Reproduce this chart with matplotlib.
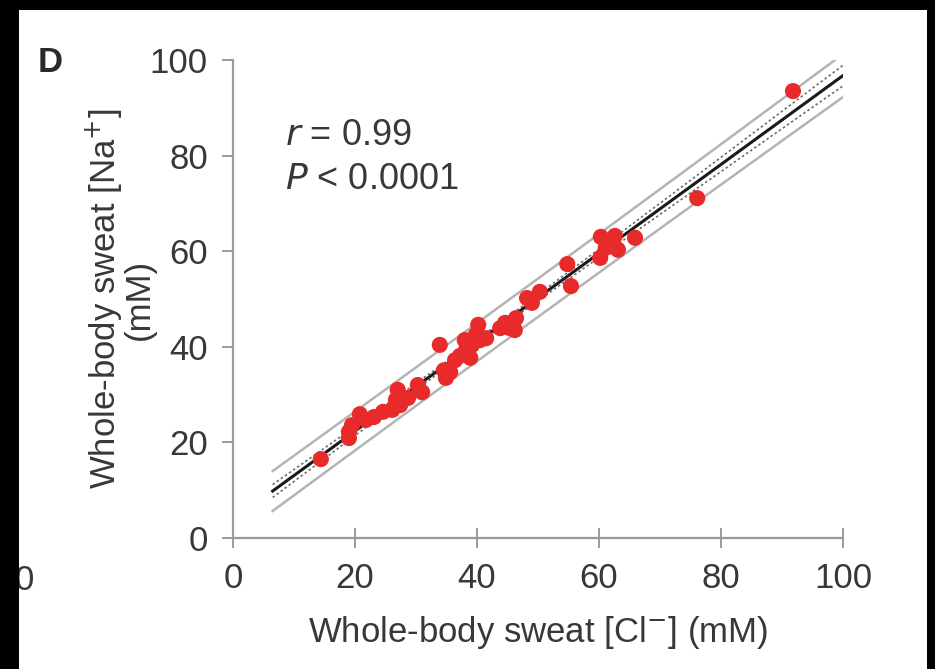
import numpy as np
import matplotlib
matplotlib.use("Agg")
import matplotlib.pyplot as plt
from matplotlib.patches import Rectangle

plt.rcParams['font.family'] = ['Liberation Sans', 'DejaVu Sans']

# Data: whole-body sweat [Cl-] (x) vs [Na+] (y), mM
cl = [14.4, 19.0, 19.0, 19.5, 20.8, 21.8, 23.1, 24.6, 26.1, 26.7, 27.0, 27.4,
      28.7, 30.3, 31.0, 33.9, 34.6, 34.9, 35.6, 36.4, 37.2, 38.0, 38.2, 38.9,
      39.2, 39.8, 40.2, 40.5, 41.5, 43.8, 44.6, 45.4, 46.4, 46.2, 48.2, 49.0,
      50.3, 54.8, 55.4, 60.2, 60.3, 61.1, 61.8, 62.6, 63.1, 65.9, 76.1, 91.8]
na = [16.5, 22.2, 20.9, 23.6, 25.9, 24.7, 25.3, 26.4, 26.8, 28.9, 31.0, 27.8,
      29.3, 32.0, 30.5, 40.4, 35.1, 33.5, 34.7, 37.2, 38.1, 41.4, 39.3, 37.7,
      40.4, 42.5, 44.6, 41.4, 41.8, 43.9, 45.0, 43.9, 46.0, 43.5, 50.2, 49.2,
      51.5, 57.3, 52.7, 58.6, 63.0, 60.7, 61.5, 63.2, 60.3, 62.8, 71.1, 93.5]

x_ticks = [0, 20, 40, 60, 80, 100]
y_ticks = [0, 20, 40, 60, 80, 100]
stat_r = "0.99"
stat_p = "0.0001"

x = np.array(cl)
y = np.array(na)
n = len(x)
slope, intercept = np.polyfit(x, y, 1)
resid = y - (slope * x + intercept)
s = np.sqrt(np.sum(resid ** 2) / (n - 2))
xm = x.mean()
sxx = np.sum((x - xm) ** 2)
t = 2.013
xf = np.linspace(6.5, 100, 200)
yf = slope * xf + intercept
ci = t * s * np.sqrt(1 / n + (xf - xm) ** 2 / sxx)
pi = t * s * np.sqrt(1 + 1 / n + (xf - xm) ** 2 / sxx)

TXT = '#383838'
fig = plt.figure(figsize=(9.35, 6.69), dpi=100)
fig.patch.set_facecolor('white')
ax = fig.add_axes([233 / 935, 1 - 538 / 669, 610 / 935, 478 / 669])
ax.set_facecolor('white')

ax.plot(xf, yf + pi, color='#b4b4b4', lw=1.8, zorder=1)
ax.plot(xf, yf - pi, color='#b4b4b4', lw=1.8, zorder=1)
ax.plot(xf, yf + ci, color='#6e6e6e', lw=1.2, ls=(0, (1.5, 1.5)), zorder=2)
ax.plot(xf, yf - ci, color='#6e6e6e', lw=1.2, ls=(0, (1.5, 1.5)), zorder=2)
ax.plot(xf, yf, color='#1a1a1a', lw=2.2, zorder=3)
ax.scatter(x, y, s=135, color='#e82a2a', edgecolors='none', zorder=4)

ax.set_xlim(0, 100)
ax.set_ylim(0, 100)
ax.set_xticks(x_ticks)
ax.set_yticks(y_ticks)
for sp in ['top', 'right']:
    ax.spines[sp].set_visible(False)
for sp in ['left', 'bottom']:
    ax.spines[sp].set_color('#9a9a9a')
    ax.spines[sp].set_linewidth(1.6)
    ax.spines[sp].set_bounds(0, 100)
ax.tick_params(axis='x', direction='inout', length=14, width=1.4, color='#9a9a9a',
               labelsize=25, labelcolor=TXT, pad=10)
ax.tick_params(axis='y', direction='out', length=8, width=1.4, color='#9a9a9a',
               labelsize=25, labelcolor=TXT, pad=10)

ax.set_xlabel('Whole-body sweat [Cl$^{-}$] (mM)', fontsize=25, color=TXT, labelpad=14)
ax.set_ylabel('Whole-body sweat [Na$^{+}$]\n(mM)', fontsize=25, color=TXT,
              labelpad=-4, linespacing=0.9)

ax.text(8.5, 84.3, r'$\it{r}$ = ' + stat_r, fontsize=26, color=TXT, va='center', ha='left')
ax.text(8.5, 74.9, r'$\it{P}$ < ' + stat_p, fontsize=26, color=TXT, va='center', ha='left')

fig.text(38 / 935, 1 - 62 / 669, 'D', fontsize=25, fontweight='bold', color='#2a2a2a',
         va='center', ha='left')
fig.text(24 / 935, 1 - 580 / 669, '0', fontsize=25, color=TXT, va='center', ha='center')

# black frame of the cropped screenshot
fig.add_artist(Rectangle((0, 0), 19 / 935, 1, transform=fig.transFigure,
                         facecolor='black', edgecolor='none', zorder=20))
fig.add_artist(Rectangle((927 / 935, 0), 8 / 935, 1, transform=fig.transFigure,
                         facecolor='black', edgecolor='none', zorder=20))
fig.add_artist(Rectangle((0, 1 - 10 / 669), 1, 10 / 669, transform=fig.transFigure,
                         facecolor='black', edgecolor='none', zorder=20))

fig.savefig('out.png', dpi=100, facecolor=fig.get_facecolor())
